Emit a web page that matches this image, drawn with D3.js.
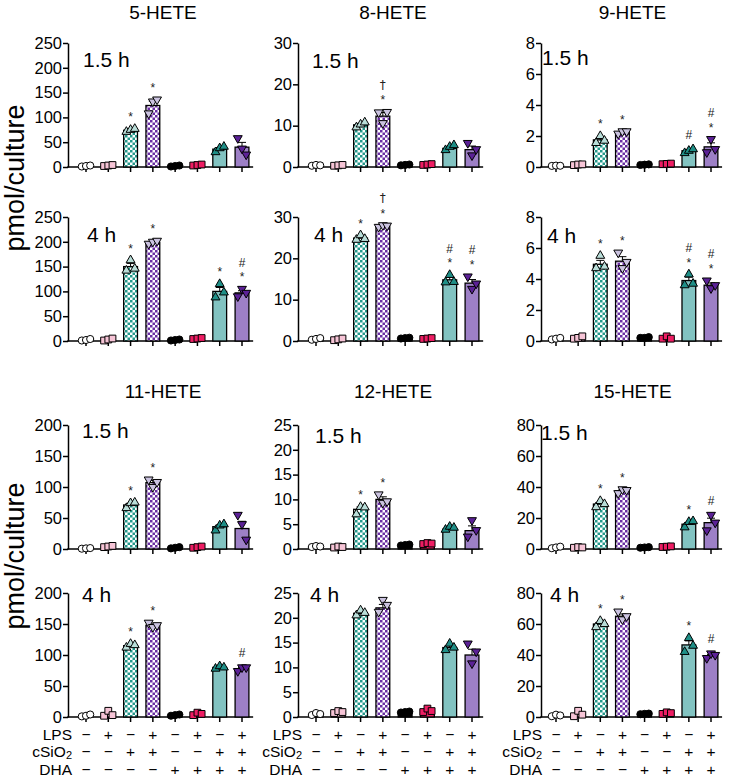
<!DOCTYPE html>
<html><head><meta charset="utf-8">
<script src="https://cdn.jsdelivr.net/npm/d3@7"></script>
<style>
body{margin:0;background:#fff}
svg{display:block}
text{font-family:"Liberation Sans",Arial,Helvetica,sans-serif;fill:#000}
</style>
</head><body>
<svg id="c" width="729" height="779"></svg>
<script>
// ---------------- DATA ----------------
const categories = ["Control","LPS","cSiO2","LPS+cSiO2","DHA","DHA+LPS","DHA+cSiO2","DHA+LPS+cSiO2"];
const lpsRow  = ["−","+","−","+","−","+","−","+"];
const sio2Row = ["−","−","+","+","−","−","+","+"];
const dhaRow  = ["−","−","−","−","+","+","+","+"];
const analytes = ["5-HETE","8-HETE","9-HETE","11-HETE","12-HETE","15-HETE"];
const yMax  = [250,30,8,200,25,80];
const yStep = [50,10,2,50,5,20];
const timepoints = ["1.5 h","4 h"];

// 5-HETE
const means5_1h = [2,3,74,124,2,4,36,40];
const pts5_1h = [[1,2,3],[2,3,4],[71,75,77],[108,132,136],[1,2,3],[3,4,5],[30,38,41],[58,37,25]];
const sig5_1h = ["","","*","*","","","",""];
const means5_4h = [2,3,150,199,2,5,100,97];
const pts5_4h = [[1,2,4],[1,3,5],[142,163,146],[196,200,202],[1,2,3],[4,5,6],[88,115,98],[90,105,97]];
const sig5_4h = ["","","*","*","","","*","#|*"];
// 8-HETE
const means8_1h = [0.4,0.4,10.2,12.3,0.5,0.6,4.5,4.2];
const pts8_1h = [[0.3,0.5,0.4],[0.3,0.4,0.5],[9.6,10.3,10.8],[13.2,10.6,13.3],[0.4,0.5,0.6],[0.5,0.6,0.7],[4.1,4.9,5.3],[5.8,2.8,4.3]];
const sig8_1h = ["","","","†|*","","","",""];
const means8_4h = [0.5,0.4,24.9,27.8,0.7,0.6,14.8,14.0];
const pts8_4h = [[0.3,0.5,0.7],[0.2,0.4,0.6],[24.5,25.6,24.7],[27.6,28.0,27.9],[0.6,0.7,0.8],[0.5,0.6,0.7],[14.2,16.0,14.3],[15.6,12.6,13.9]];
const sig8_4h = ["","","*","†|*","","","#|*","#|*"];
// 9-HETE
const means9_1h = [0.08,0.15,1.75,2.25,0.15,0.2,1.05,1.3];
const pts9_1h = [[0.07,0.09,0.08],[0.12,0.16,0.17],[1.55,2.0,1.7],[2.15,2.3,2.3],[0.13,0.15,0.17],[0.18,0.2,0.22],[0.9,1.05,1.15],[0.95,1.8,1.15]];
const sig9_1h = ["","","*","*","","","#","#|*"];
const means9_4h = [0.15,0.2,4.95,5.15,0.2,0.2,3.9,3.6];
const pts9_4h = [[0.1,0.15,0.2],[0.15,0.2,0.3],[4.7,5.5,4.8],[5.7,4.7,5.1],[0.2,0.2,0.25],[0.15,0.3,0.15],[3.6,4.3,3.7],[3.9,3.4,3.6]];
const sig9_4h = ["","","*","*","","","#|*","#|*"];
// 11-HETE
const means11_1h = [1,4,71,107,2,3,36,33];
const pts11_1h = [[0.5,1,1.5],[3,4,5],[66,74,75],[112,100,108],[1,2,3],[2,3,4],[30,38,40],[55,40,15]];
const sig11_1h = ["","","*","*","","","",""];
const means11_4h = [2,5,115,148,3,5,80,78];
const pts11_4h = [[1,2,4],[2,10,3],[112,118,116],[152,145,148],[2,3,4],[3,7,5],[78,82,80],[74,80,80]];
const sig11_4h = ["","","*","*","","","","#"];
// 12-HETE
const means12_1h = [0.5,0.4,8.0,10.0,0.8,1.1,4.0,3.7];
const pts12_1h = [[0.4,0.6,0.5],[0.3,0.5,0.4],[7.0,8.5,8.4],[11.0,9.3,9.6],[0.7,0.8,0.9],[1.0,1.2,1.1],[3.9,4.5,4.3],[2.5,5.8,3.8]];
const sig12_1h = ["","","*","*","","","",""];
const means12_4h = [0.6,1.0,20.9,22.0,1.0,1.3,14.0,12.5];
const pts12_4h = [[0.4,0.8,0.6],[0.8,1.2,1.0],[20.5,21.5,21.0],[21.2,23.6,22.6],[0.9,1.0,1.1],[1.0,1.7,1.2],[13.5,14.8,14.0],[14.8,10.8,13.2]];
const sig12_4h = ["","","","","","","",""];
// 15-HETE
const means15_1h = [1,1,29,37.5,1,1.5,16,17];
const pts15_1h = [[0.5,1,1.5],[0.8,1.2,1],[27,31,29],[36,38.5,38],[0.8,1,1.2],[1.3,1.5,1.7],[14,17.5,18],[12,22,17]];
const sig15_1h = ["","","*","*","","","*","#"];
const means15_4h = [1,2,60,65,2,2.5,46.5,39.5];
const pts15_4h = [[0.5,1.5,1],[0.5,4,1.5],[58,62,60],[68,63,65],[1.8,2,2.2],[2,3,2.5],[42,51,46],[38,41,40]];
const sig15_4h = ["","","*","*","","","*","#"];

const panelData = [
  [[means5_1h,pts5_1h,sig5_1h],[means5_4h,pts5_4h,sig5_4h]],
  [[means8_1h,pts8_1h,sig8_1h],[means8_4h,pts8_4h,sig8_4h]],
  [[means9_1h,pts9_1h,sig9_1h],[means9_4h,pts9_4h,sig9_4h]],
  [[means11_1h,pts11_1h,sig11_1h],[means11_4h,pts11_4h,sig11_4h]],
  [[means12_1h,pts12_1h,sig12_1h],[means12_4h,pts12_4h,sig12_4h]],
  [[means15_1h,pts15_1h,sig15_1h],[means15_4h,pts15_4h,sig15_4h]]
];

// ---------------- LAYOUT / STYLE ----------------
const colLayout = [{ax:68,c0:86,c7:242},{ax:298,c0:316,c7:472},{ax:541,c0:556,c7:711}];
const rowLayout = [{t:43,b:167},{t:217,b:341},{t:425,b:549},{t:593,b:717}];
const titleY = [19,398];
const timeLabelPos = [
  [[83,67],[312,68],[542,65]],
  [[87,242],[314,242],[547,243]],
  [[82,438],[315,443],[541,440]],
  [[82,602],[310,602],[550,602]]
];
const barFill = ["#ffffff","#f6c4d6","url(#chkTeal)","url(#chkPurple)","#000000","#ee1d63","#82c3c1","#9d80c6"];
const markerFill = ["#ffffff","#f6c4d6","#b9ddd8","#cbc3e0","#000000","#ee1d63","#1f8f87","#5b2196"];
const markerType = [d3.symbolCircle,d3.symbolSquare,d3.symbolTriangle,d3.symbolTriangle,d3.symbolCircle,d3.symbolSquare,d3.symbolTriangle,d3.symbolTriangle];
const markerSize = [40,46,34,34,40,46,34,34];
const markerFlip = [false,false,false,true,false,false,false,true];
const ptOffsets = [-4.2,0,4.2];

const svg = d3.select("#c");
const defs = svg.append("defs");
function checker(id,color){
  const p = defs.append("pattern").attr("id",id).attr("patternUnits","userSpaceOnUse")
    .attr("width",5).attr("height",5);
  p.append("rect").attr("width",5).attr("height",5).attr("fill","#fff");
  p.append("rect").attr("width",2.5).attr("height",2.5).attr("fill",color);
  p.append("rect").attr("x",2.5).attr("y",2.5).attr("width",2.5).attr("height",2.5).attr("fill",color);
}
checker("chkTeal","#23998b");
checker("chkPurple","#6a2ea3");

// y labels
[178,556].forEach(cy=>{
  svg.append("text").attr("transform",`translate(24,${cy}) rotate(-90)`)
    .attr("text-anchor","middle").style("font-size","27px").text("pmol/culture");
});

analytes.forEach((name,a)=>{
  const col = a%3, half = Math.floor(a/3);
  const L = colLayout[col];
  svg.append("text").attr("x",(L.c0+L.c7)/2 - 1).attr("y",titleY[half])
    .attr("text-anchor","middle").style("font-size","19px").text(name);
  [0,1].forEach(t=>{
    const row = half*2+t, R = rowLayout[row];
    const [means,pts,sig] = panelData[a][t];
    const step = (L.c7-L.c0)/7;
    const x = d3.scaleBand().domain(d3.range(8)).range([L.c0-step/2, L.c7+step/2])
      .paddingInner(0.38).paddingOuter(0.19);
    const y = d3.scaleLinear().domain([0,yMax[a]]).range([R.b,R.t]);
    const g = svg.append("g");
    // y axis
    const ya = g.append("g").attr("transform",`translate(${L.ax},0)`)
      .call(d3.axisLeft(y).tickValues(d3.range(0,yMax[a]+yStep[a]/2,yStep[a])).tickSize(5).tickPadding(1).tickSizeOuter(0));
    ya.selectAll("path,line").attr("stroke","#000").attr("stroke-width",1.5);
    ya.selectAll("text").style("font-size","16.5px").style("font-family","'Liberation Sans',Arial,sans-serif").attr("fill","#000");
    // x axis
    const xa = g.append("g").attr("transform",`translate(0,${R.b})`)
      .call(d3.axisBottom(x).tickSize(5).tickFormat("").tickSizeOuter(0));
    xa.select(".domain").remove();
    xa.selectAll("line").attr("stroke","#000").attr("stroke-width",1.5);
    g.append("line").attr("x1",L.ax-0.75).attr("x2",L.c7+step/2).attr("y1",R.b).attr("y2",R.b)
      .attr("stroke","#000").attr("stroke-width",1.5);
    // time label
    const tp = timeLabelPos[row][col];
    g.append("text").attr("x",tp[0]).attr("y",tp[1]).style("font-size","21px").text(timepoints[t]);
    // bars
    g.selectAll(".bar").data(means).enter().append("rect")
      .attr("x",(d,i)=>x(i)).attr("width",x.bandwidth())
      .attr("y",d=>y(d)).attr("height",d=>y(0)-y(d))
      .attr("fill",(d,i)=>barFill[i]).attr("stroke","#000").attr("stroke-width",1.3);
    // error bars (mean + SEM)
    means.forEach((m,i)=>{
      const sem = d3.deviation(pts[i])/Math.sqrt(pts[i].length);
      const cx = x(i)+x.bandwidth()/2;
      g.append("line").attr("x1",cx).attr("x2",cx).attr("y1",y(m)).attr("y2",y(m+sem)).attr("stroke","#000").attr("stroke-width",1);
      g.append("line").attr("x1",cx-4).attr("x2",cx+4).attr("y1",y(m+sem)).attr("y2",y(m+sem)).attr("stroke","#000").attr("stroke-width",1);
    });
    // points
    pts.forEach((arr,i)=>{
      const cx = x(i)+x.bandwidth()/2;
      const sym = d3.symbol().type(markerType[i]).size(markerSize[i]);
      arr.forEach((v,k)=>{
        g.append("path").attr("d",sym())
          .attr("transform",`translate(${cx+ptOffsets[k]},${y(v)})${markerFlip[i]?" rotate(180)":""}`)
          .attr("fill",markerFill[i]).attr("stroke","#000").attr("stroke-width",1);
      });
    });
    // significance marks
    sig.forEach((s,i)=>{
      if(!s) return;
      const cx = x(i)+x.bandwidth()/2;
      const sem = d3.deviation(pts[i])/Math.sqrt(pts[i].length);
      const top = y(Math.max(d3.max(pts[i]), means[i]+sem)) - 4.5;
      const lines = s.split("|").reverse();
      lines.forEach((ch,k)=>{
        const center = top - 10 - k*12;
        const off = ch==="*"?6.9:(ch==="#"?4.2:3.4);
        g.append("text").attr("x",cx).attr("y",center+off).attr("text-anchor","middle")
          .style("font-size","12px")
          .style("font-family", ch==="†" ? "'DejaVu Sans',sans-serif" : "'Liberation Sans',Arial,sans-serif")
          .style("fill","#222").text(ch);
      });
    });
    // bottom treatment labels
    if(row===3){
      const rows = [["LPS",lpsRow,740],["cSiO",sio2Row,757],["DHA",dhaRow,775]];
      rows.forEach(([lab,vals,by])=>{
        const tx = g.append("text").attr("x",L.c0-14).attr("y",by).attr("text-anchor","end").style("font-size","15.5px");
        tx.append("tspan").text(lab);
        if(lab==="cSiO") tx.append("tspan").attr("dy",2).style("font-size","11px").text("2");
        vals.forEach((v,i)=>{
          g.append("text").attr("x",x(i)+x.bandwidth()/2).attr("y",by).attr("text-anchor","middle")
            .style("font-size","15.5px").text(v);
        });
      });
    }
  });
});
</script>
</body></html>
